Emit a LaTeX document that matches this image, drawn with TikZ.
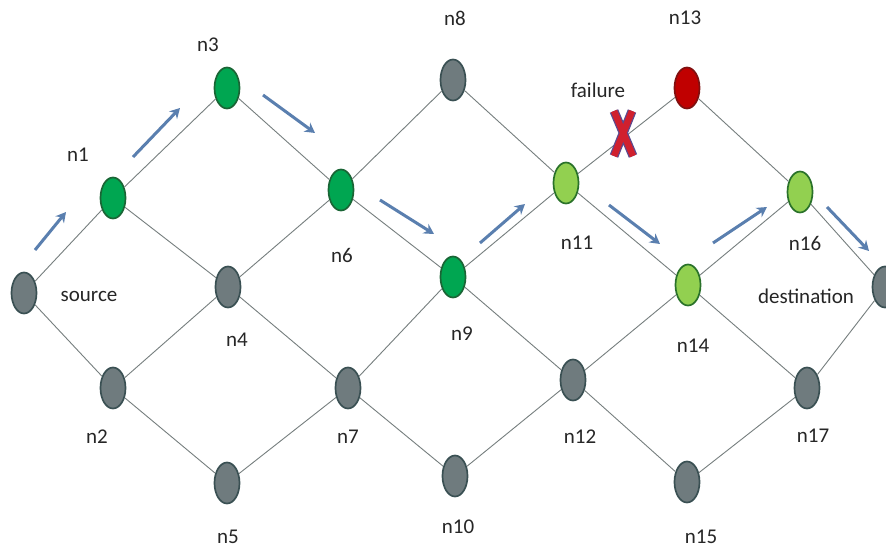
\documentclass[tikz,border=0pt]{standalone}
\usepackage{fontspec}
\setmainfont{Carlito}
\usetikzlibrary{shapes.geometric,arrows.meta}
\definecolor{edgegray}{HTML}{767E7E}
\definecolor{nodegray}{HTML}{6F7B7E}
\definecolor{nodegrayline}{HTML}{3A5053}
\definecolor{darkgreen}{HTML}{00A651}
\definecolor{darkgreenline}{HTML}{1A6535}
\definecolor{lightgreen}{HTML}{92D050}
\definecolor{lightgreenline}{HTML}{2A722A}
\definecolor{failred}{HTML}{C00000}
\definecolor{failredline}{HTML}{801010}
\definecolor{pathblue}{HTML}{5A7FAF}
\definecolor{crossred}{HTML}{D0202E}
\definecolor{crossline}{HTML}{5B4A8F}
\begin{document}
\begin{tikzpicture}[x=1pt,y=-1pt,
  router/.style={ellipse,minimum width=25pt,minimum height=41pt,inner sep=0pt,line width=1.7pt},
  idle/.style={router,fill=nodegray,draw=nodegrayline},
  onpath/.style={router,fill=darkgreen,draw=darkgreenline},
  rerouted/.style={router,fill=lightgreen,draw=lightgreenline},
  failed/.style={router,fill=failred,draw=failredline},
  link/.style={draw=edgegray,line width=0.9pt},
  hop/.style={draw=pathblue,line width=3pt,-{Stealth[length=10pt,width=11pt]}},
  lbl/.style={font=\fontsize{21}{23}\selectfont,text=black!85,inner sep=0pt}]
\useasboundingbox (0,0) rectangle (886,552);
\fill[white] (0,0) rectangle (886,552);

% routers
\node[idle]     (src) at (24,293) {};
\node[onpath]   (n1)  at (113,198) {};
\node[idle]     (n2)  at (113,388) {};
\node[onpath]   (n3)  at (227,88) {};
\node[idle]     (n4)  at (228,287) {};
\node[idle]     (n5)  at (227,483) {};
\node[onpath]   (n6)  at (341,190) {};
\node[idle]     (n7)  at (348,388) {};
\node[idle]     (n8)  at (453,80) {};
\node[onpath]   (n9)  at (453,277) {};
\node[idle]     (n10) at (455,476) {};
\node[rerouted] (n11) at (566,183) {};
\node[idle]     (n12) at (573,380) {};
\node[failed]   (n13) at (687,88) {};
\node[rerouted] (n14) at (688,285) {};
\node[idle]     (n15) at (687,482) {};
\node[rerouted] (n16) at (800,192) {};
\node[idle]     (n17) at (807,388) {};
\node[idle]     (dst) at (885,287) {};

% links
\foreach \a/\b in {src/n1,src/n2,n1/n3,n1/n4,n2/n4,n2/n5,n3/n6,n4/n6,n4/n7,n5/n7,
  n6/n8,n6/n9,n7/n9,n7/n10,n8/n11,n9/n11,n9/n12,n10/n12,n11/n13,n11/n14,
  n12/n14,n12/n15,n13/n16,n14/n16,n14/n17,n15/n17,n16/dst,n17/dst}
  \draw[link] (\a) -- (\b);

% path arrows
\coordinate (a1s) at (35,250);  \coordinate (a1e) at (66,212);
\coordinate (a2s) at (133,157); \coordinate (a2e) at (180,108);
\coordinate (a3s) at (263,95);  \coordinate (a3e) at (315,133);
\coordinate (a4s) at (380,200); \coordinate (a4e) at (434,234);
\coordinate (a5s) at (480,243); \coordinate (a5e) at (525,204);
\coordinate (a6s) at (609,205); \coordinate (a6e) at (660,244);
\coordinate (a7s) at (713,243); \coordinate (a7e) at (767,207);
\coordinate (a8s) at (827,207); \coordinate (a8e) at (869,251);
\foreach \i in {1,...,8}
  \draw[hop] (a\i s) -- (a\i e);

% failed link marker
\coordinate (xa) at (614,111); \coordinate (xb) at (633,156);
\coordinate (xc) at (632,111); \coordinate (xd) at (614,156);
\draw[crossline,line width=9pt] (xa) -- (xb) (xc) -- (xd);
\draw[crossred,line width=6.5pt] (xa) -- (xb) (xc) -- (xd);

% labels
\node[lbl] (l1)  at (78,155)  {n1};
\node[lbl] (l2)  at (97,437)  {n2};
\node[lbl] (l3)  at (208,45)  {n3};
\node[lbl] (l4)  at (237,340) {n4};
\node[lbl] (l5)  at (228,537) {n5};
\node[lbl] (l6)  at (342,255) {n6};
\node[lbl] (l7)  at (348,437) {n7};
\node[lbl] (l8)  at (455,18)  {n8};
\node[lbl] (l9)  at (462,334) {n9};
\node[lbl] (l10) at (458,527) {n10};
\node[lbl] (l11) at (577,243) {n11};
\node[lbl] (l12) at (580,437) {n12};
\node[lbl] (l13) at (685,18)  {n13};
\node[lbl] (l14) at (693,346) {n14};
\node[lbl] (l15) at (701,537) {n15};
\node[lbl] (l16) at (805,243) {n16};
\node[lbl] (l17) at (813,436) {n17};
\node[lbl] (lsrc) at (89,296) {source};
\node[lbl] (ldst) at (806,296) {destination};
\node[lbl] (lfail) at (598,90) {failure};
\end{tikzpicture}
\end{document}
